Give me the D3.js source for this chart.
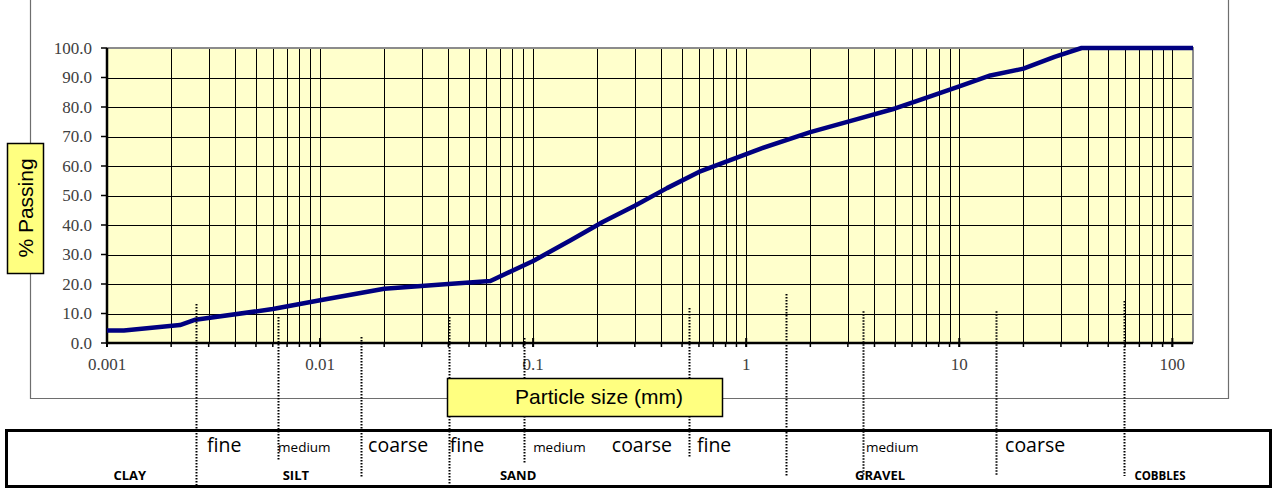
<!DOCTYPE html>
<html>
<head>
<meta charset="utf-8">
<style>
  body { margin: 0; background: #fff; }
  svg { display: block; }
</style>
</head>
<body>
<svg width="1274" height="495"></svg>
<script src="https://d3js.org/d3.v7.min.js"></script>
<script>

// grading curve: sieve / hydrometer size (mm) and % passing
var sizes   = [0.001, 0.0012, 0.0022, 0.0026, 0.006, 0.01, 0.02, 0.04, 0.063, 0.1, 0.15, 0.212, 0.3, 0.425, 0.6,
               1.18, 2, 3.35, 5, 6.3, 10, 14, 20, 28, 37.5, 50, 63, 75, 100, 125];
var passing = [4.2, 4.2, 6.1, 7.9, 11.5, 14.5, 18.4, 20.0, 21.0, 27.8, 34.8, 41.0, 46.5, 52.5, 58.0,
               66.0, 71.5, 76.0, 79.5, 82.0, 87.0, 90.7, 93.0, 97.0, 100, 100, 100, 100, 100, 100];

var yTicks  = [0, 10, 20, 30, 40, 50, 60, 70, 80, 90, 100];
var xLabels = [0.001, 0.01, 0.1, 1, 10, 100];

// dotted soil-class boundaries (size in mm, top end in % passing)
var bounds    = [0.00262, 0.00635, 0.0156, 0.0403, 0.0906, 0.539, 1.54, 3.53, 14.9, 59.3];
var boundTops = [13.2, 8.8, 2.0, 8.8, 1.7, 11.9, 16.6, 10.8, 10.8, 14.2];
var boundEnds = [486, 460, 477, 486, 464, 458, 476, 476, 476, 476];

// classification table
var subNames  = ["fine", "medium", "coarse", "fine", "medium", "coarse", "fine", "medium", "coarse"];
var subAt     = [0.00295, 0.00635, 0.0168, 0.0406, 0.1, 0.234, 0.587, 3.65, 16.4];
var mainNames = ["CLAY", "SILT", "SAND", "GRAVEL", "COBBLES"];
var mainAt    = [0.00128, 0.0077, 0.085, 4.25, 87.5];

var svg = d3.select("svg");

//plot area edges (note: "top" is taken by window.top)
var pLeft = 107, pRight = 1193, pTop = 48, pBottom = 343;

var x = d3.scaleLog().domain([0.001, 125]).range([pLeft, pRight]);
var y = d3.scaleLinear().domain([0, 100]).range([pBottom, pTop]);

//outer chart frame (top edge is off the picture)
svg.append("path")
    .attr("d", "M30.5,-5 V398.5 H1228.5 V-5")
    .attr("fill", "none")
    .attr("stroke", "#6e6e6e")
    .attr("stroke-width", 1.2);

//plot background
svg.append("rect")
    .attr("x", pLeft).attr("y", pTop)
    .attr("width", pRight - pLeft).attr("height", pBottom - pTop)
    .attr("fill", "#ffffcc");

var grid = svg.append("g").attr("shape-rendering", "crispEdges");

//vertical grid, one line per 1..9 x decade
grid.selectAll(".vg")
  .data(x.ticks())
  .enter().append("line")
    .attr("x1", function(d) { return Math.round(x(d)) + 0.5; })
    .attr("x2", function(d) { return Math.round(x(d)) + 0.5; })
    .attr("y1", pTop).attr("y2", pBottom)
    .attr("stroke", "#000")
    .attr("stroke-width", 1);

//horizontal grid
grid.selectAll(".hg")
  .data(yTicks)
  .enter().append("line")
    .attr("x1", pLeft).attr("x2", pRight)
    .attr("y1", function(d) { return Math.round(y(d)) + 0.5; })
    .attr("y2", function(d) { return Math.round(y(d)) + 0.5; })
    .attr("stroke", "#000")
    .attr("stroke-width", 1);

//grey top / right border of plot
svg.append("path")
    .attr("d", "M" + pLeft + "," + pTop + " H" + pRight + " V" + pBottom)
    .attr("fill", "none")
    .attr("stroke", "#8c8c8c")
    .attr("stroke-width", 2);

//x axis: minor ticks outside, decade ticks crossing
var xa = svg.append("g");
xa.selectAll(".mt")
  .data(x.ticks())
  .enter().append("line")
    .attr("x1", function(d) { return x(d); })
    .attr("x2", function(d) { return x(d); })
    .attr("y1", pBottom)
    .attr("y2", pBottom + 4)
    .attr("stroke", "#000")
    .attr("stroke-width", 1.5);
xa.selectAll(".Mt")
  .data(xLabels)
  .enter().append("line")
    .attr("x1", function(d) { return x(d); })
    .attr("x2", function(d) { return x(d); })
    .attr("y1", pBottom - 5)
    .attr("y2", pBottom + 4)
    .attr("stroke", "#000")
    .attr("stroke-width", 2);
xa.selectAll("text")
  .data(xLabels)
  .enter().append("text")
    .attr("x", function(d) { return x(d); })
    .attr("y", 370)
    .attr("text-anchor", "middle")
    .attr("font-family", "Liberation Serif, Times New Roman, serif")
    .attr("font-size", 17)
    .attr("fill", "#404040")
    .text(function(d) { return String(d); });
xa.append("line")
    .attr("x1", pLeft - 1).attr("x2", pRight)
    .attr("y1", pBottom).attr("y2", pBottom)
    .attr("stroke", "#000")
    .attr("stroke-width", 2.5);

//y axis
var ya = svg.append("g");
ya.selectAll("line")
  .data(yTicks)
  .enter().append("line")
    .attr("x1", pLeft - 6).attr("x2", pLeft)
    .attr("y1", function(d) { return y(d); })
    .attr("y2", function(d) { return y(d); })
    .attr("stroke", "#000")
    .attr("stroke-width", 1.5);
ya.selectAll("text")
  .data(yTicks)
  .enter().append("text")
    .attr("x", 92)
    .attr("y", function(d) { return y(d) + 5.5; })
    .attr("text-anchor", "end")
    .attr("font-family", "Liberation Serif, Times New Roman, serif")
    .attr("font-size", 17)
    .attr("fill", "#404040")
    .text(function(d) { return d3.format(".1f")(d); });
ya.append("line")
    .attr("x1", pLeft).attr("x2", pLeft)
    .attr("y1", pTop).attr("y2", pBottom + 1)
    .attr("stroke", "#000")
    .attr("stroke-width", 2.5);

//grading curve
var line = d3.line()
    .x(function(d, i) { return x(sizes[i]); })
    .y(function(d) { return y(d); });

svg.append("path")
    .datum(passing)
    .attr("fill", "none")
    .attr("stroke", "#000080")
    .attr("stroke-width", 4.5)
    .attr("stroke-linejoin", "round")
    .attr("d", line);

//classification table box
svg.append("rect")
    .attr("x", 6.5).attr("y", 430.5)
    .attr("width", 1264).attr("height", 56)
    .attr("fill", "none")
    .attr("stroke", "#000")
    .attr("stroke-width", 3);

//dotted boundary lines
svg.selectAll(".bnd")
  .data(bounds)
  .enter().append("line")
    .attr("x1", function(d) { return Math.round(x(d)) + 0.5; })
    .attr("x2", function(d) { return Math.round(x(d)) + 0.5; })
    .attr("y1", function(d, i) { return y(boundTops[i]); })
    .attr("y2", function(d, i) { return boundEnds[i]; })
    .attr("stroke", "#000")
    .attr("stroke-width", 2)
    .attr("stroke-dasharray", "1.5,1.5");

//y label box
svg.append("rect")
    .attr("x", 7.5).attr("y", 143.5)
    .attr("width", 36).attr("height", 130)
    .attr("fill", "#ffff80")
    .attr("stroke", "#000")
    .attr("stroke-width", 1.5);
svg.append("text")
    .attr("transform", "translate(33,208) rotate(-90)")
    .attr("text-anchor", "middle")
    .attr("font-family", "Liberation Sans, Arial, sans-serif")
    .attr("font-size", 21)
    .attr("fill", "#000")
    .text("% Passing");

//x label box
svg.append("rect")
    .attr("x", 447.5).attr("y", 378.5)
    .attr("width", 275).attr("height", 38)
    .attr("fill", "#ffff80")
    .attr("stroke", "#000")
    .attr("stroke-width", 1.5);
svg.append("text")
    .attr("x", 599).attr("y", 404)
    .attr("text-anchor", "middle")
    .attr("font-family", "Liberation Sans, Arial, sans-serif")
    .attr("font-size", 21)
    .attr("fill", "#000")
    .text("Particle size (mm)");

//table text: sub classes
svg.selectAll(".sub")
  .data(subNames)
  .enter().append("text")
    .attr("x", function(d, i) { return x(subAt[i]); })
    .attr("y", 452)
    .attr("font-family", "Open Sans, Noto Sans, sans-serif")
    .attr("font-size", function(d) { return d == "medium" ? 13.5 : 19.5; })
    .attr("fill", "#000")
    .text(function(d) { return d; });

//table text: main classes
svg.selectAll(".main")
  .data(mainNames)
  .enter().append("text")
    .attr("x", function(d, i) { return x(mainAt[i]); })
    .attr("y", 480)
    .attr("text-anchor", "middle")
    .attr("font-family", "Open Sans, Noto Sans, sans-serif")
    .attr("font-weight", "bold")
    .attr("font-size", function(d) { return d == "COBBLES" ? 11.5 : 13; })
    .attr("fill", "#000")
    .text(function(d) { return d; });

</script>
</body>
</html>
